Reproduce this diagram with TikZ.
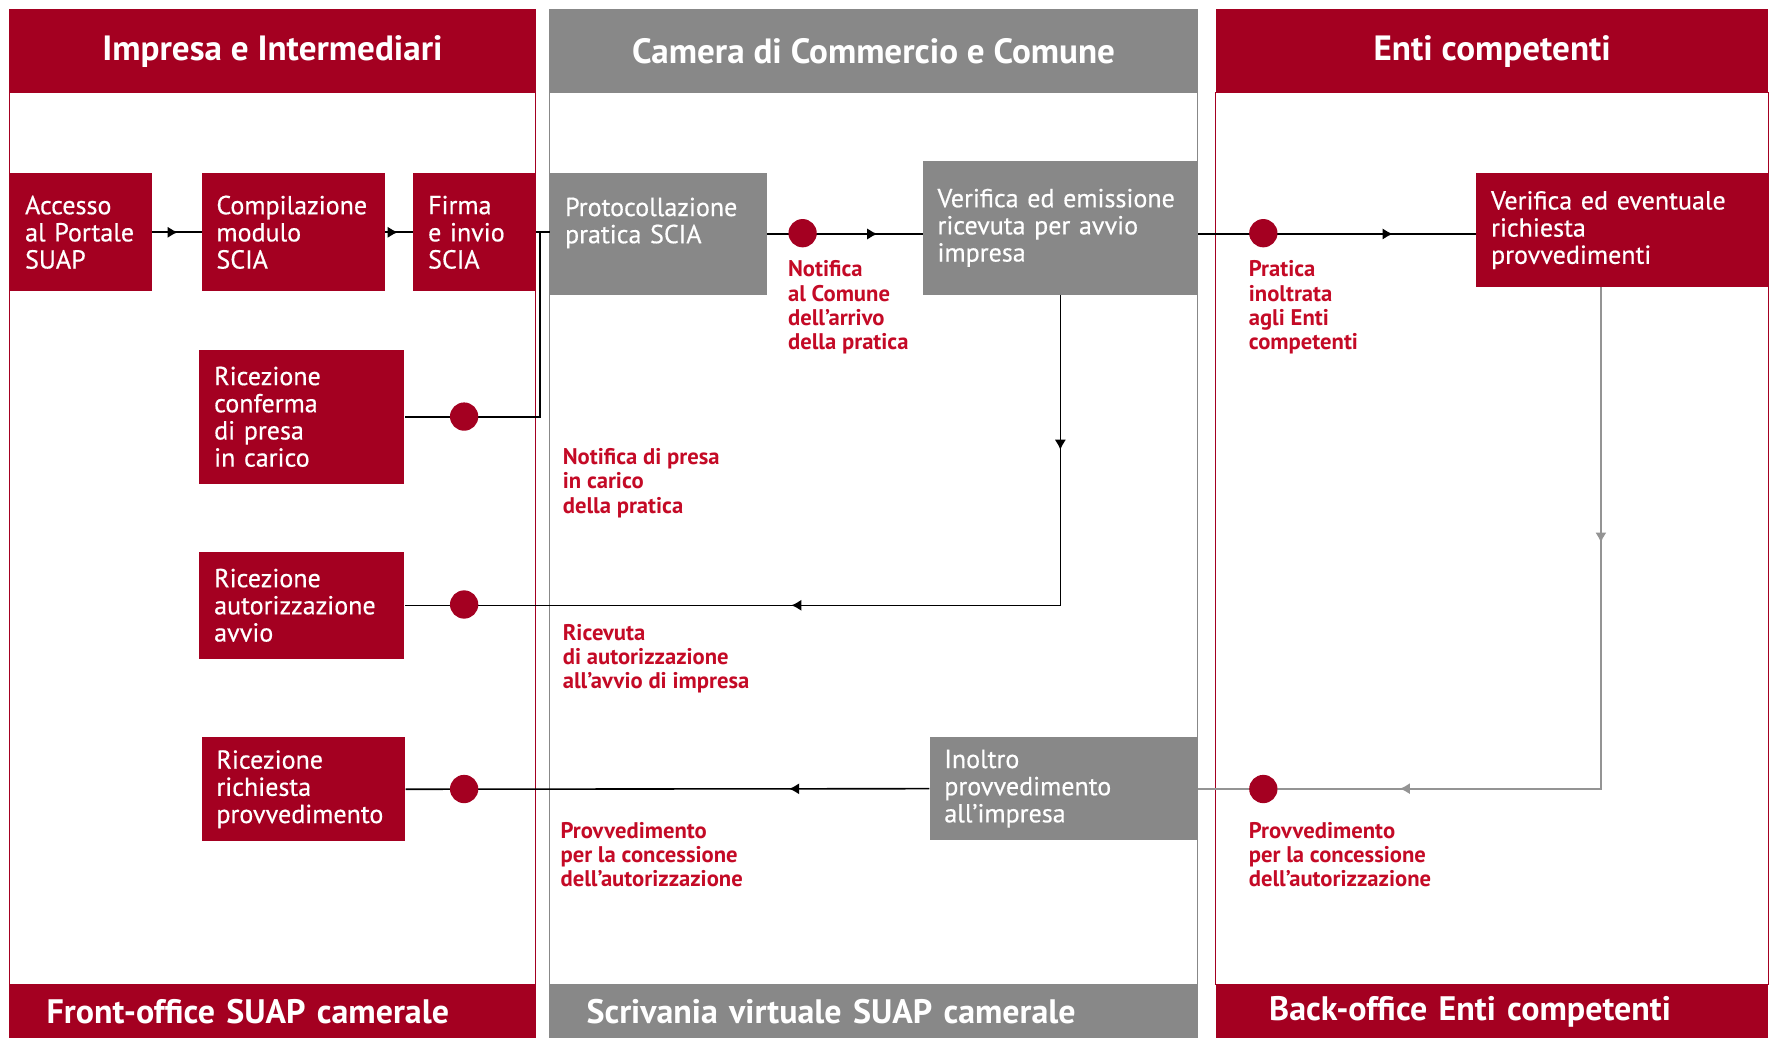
\documentclass[tikz,border=0pt]{standalone}
\usepackage{fontspec}
\setmainfont{PT Sans}
\newfontfamily\boxfont{PT Sans}[FakeBold=0.5]
\usetikzlibrary{arrows.meta}
\usetikzlibrary{decorations.markings}
\definecolor{suapred}{RGB}{164,0,33}
\definecolor{suapgrey}{RGB}{136,136,136}
\definecolor{notered}{RGB}{196,10,38}
\tikzset{
      lane/.style={draw=#1, line width=0.9pt},
      lanehead/.style={fill=#1, text=white, anchor=north west, inner sep=0pt,
            minimum height=74pt, font=\fontsize{31}{36}\selectfont\bfseries},
      lanefoot/.style={fill=#1, text=white, anchor=north west, inner ysep=0pt,
            inner xsep=33pt, minimum height=47pt, align=left,
            font=\fontsize{30}{34}\selectfont\bfseries},
      box/.style={anchor=north west, inner xsep=13pt, inner ysep=0pt, align=left,
            text=white, font=\boxfont\fontsize{23}{24}\selectfont},
      redbox/.style={box, fill=suapred},
      greybox/.style={box, fill=suapgrey},
      note/.style={anchor=north west, inner sep=0pt, align=left, text=notered,
            font=\fontsize{20}{21.5}\selectfont\bfseries},
      dot/.style={circle, fill=suapred, inner sep=0pt, minimum size=25pt},
      flow/.style={draw=black, line width=1.4pt},
      greyflow/.style={draw=suapgrey!90, line width=1.6pt},
      midarrow/.style={postaction={decorate},
            decoration={markings,mark=at position #1 with {\arrow{Latex[length=9pt,width=10pt]}}}},
      twoarrows/.style 2 args={postaction={decorate},
            decoration={markings,mark=at position #1 with {\arrow{Latex[length=9pt,width=10pt]}},
                                 mark=at position #2 with {\arrow{Latex[length=9pt,width=10pt]}}}},
}

\begin{document}
\begin{tikzpicture}[x=1pt, y=-1pt]
        \useasboundingbox (0,0) rectangle (1568,917);

        % The three lanes
        \draw[lane=suapred] (8,82) rectangle (473,870);
        \draw[lane=suapgrey] (485,82) rectangle (1058,870);
        \draw[lane=suapred] (1074,82) rectangle (1562,870);

        \node[lanehead=suapred, minimum width=465pt] (hdrimpresa) at (8,8) {Impresa e Intermediari};
        \node[lanehead=suapgrey, minimum width=573pt] (hdrcamera) at (485,8) {Camera di Commercio e Comune};
        \node[lanehead=suapred, minimum width=488pt] (hdrenti) at (1074,8) {Enti competenti};

        \node[lanefoot=suapred, text width=399pt] (ftfront) at (8,870) {Front-office SUAP camerale};
        \node[lanefoot=suapgrey, text width=507pt] (ftscrivania) at (485,870) {Scrivania virtuale SUAP camerale};
        \node[lanefoot=suapred, inner xsep=47pt, text width=394pt] (ftback) at (1074,870) {Back-office Enti competenti};

        % Steps of the procedure
        \node[redbox, text width=99pt, minimum height=104pt] (accesso) at (9,153) {Accesso\\al Portale\\SUAP};
        \node[redbox, text width=136pt, minimum height=104pt] (compil) at (178,153) {Compilazione\\modulo\\SCIA};
        \node[redbox, text width=82pt, minimum height=104pt] (firma) at (365,153) {Firma\\e invio\\SCIA};
        \node[greybox, text width=165pt, minimum height=107pt] (protocol) at (486,153) {Protocollazione\\pratica SCIA\\\mbox{}};
        \node[greybox, text width=217pt, minimum height=118pt] (verifica) at (815,142) {Verifica ed emissione\\ricevuta per avvio\\impresa};
        \node[redbox, text width=232pt, minimum height=100pt] (eventuale) at (1304,153) {Verifica ed eventuale\\richiesta\\provvedimenti};

        \node[redbox, text width=155pt, minimum height=118pt] (conferma) at (176,309) {Ricezione\\conferma\\di presa\\in carico};
        \node[redbox, text width=155pt, minimum height=95pt] (autorizz) at (176,487) {Ricezione\\autorizzazione\\avvio};
        \node[redbox, text width=154pt, minimum height=92pt] (richiesta) at (178,651) {Ricezione\\richiesta\\provvedimento};
        \node[greybox, text width=211pt, minimum height=91pt] (inoltro) at (821,651) {Inoltro\\provvedimento\\all’impresa};

        % Messages along the connectors
        \node[note] (ncomune) at (696,230) {Notifica\\al Comune\\dell’arrivo\\della pratica};
        \node[note] (ninoltrata) at (1103,230) {Pratica\\inoltrata\\agli Enti\\competenti};
        \node[note] (npresa) at (497,396) {Notifica di presa\\in carico\\della pratica};
        \node[note] (nricevuta) at (497,551) {Ricevuta\\di autorizzazione\\all’avvio di impresa};
        \node[note] (nprovvfront) at (495,726) {Provvedimento\\per la concessione\\dell’autorizzazione};
        \node[note] (nprovvback) at (1103,726) {Provvedimento\\per la concessione\\dell’autorizzazione};

        % Connectors
        \coordinate (split) at (477,205);
        \draw[flow, midarrow=0.52] (accesso.east) -- (compil.west);
        \draw[flow, midarrow=0.45] (compil.east) -- (firma.west);
        \draw[flow] (firma.east) -- (firma.east -| protocol.west);
        \draw[flow] (split) |- (conferma.east);
        \draw[flow, midarrow=0.71] (protocol.east) -- (protocol.east -| verifica.west);
        \draw[flow, midarrow=0.7] (verifica.east |- protocol.east) -- (protocol.east -| eventuale.west);
        \draw[flow, twoarrows={137pt}{512pt}] (verifica.south) |- (autorizz.east);
        \draw[greyflow, twoarrows={226pt}{621pt}] ([xshift=-19pt]eventuale.south) |- (inoltro.east);
        \draw[flow, midarrow=124pt] (inoltro.west) -- (richiesta.east);

        % Dots on the messages
        \node[dot] (dcomune) at (709,206) {};
        \node[dot] (dinoltrata) at (1116,206) {};
        \node[dot] (dconferma) at (410,368) {};
        \node[dot] (dautorizz) at (410,534) {};
        \node[dot] (drichiesta) at (410,697) {};
        \node[dot] (dprovv) at (1116,697) {};

    \end{tikzpicture}
\end{document}
